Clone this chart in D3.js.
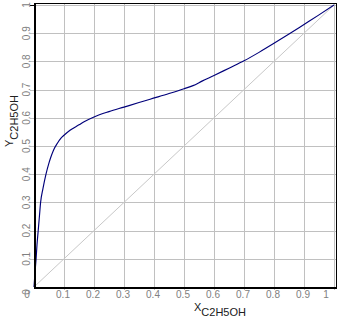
<!DOCTYPE html>
<html>
<head>
<meta charset="utf-8">
<script src="https://cdn.jsdelivr.net/npm/d3@7/dist/d3.min.js"></script>
<style>
  body { margin: 0; background: #fff; }
  svg { display: block; }
  .tick-label { font-family: "Liberation Sans", Arial, sans-serif; font-size: 10px; fill: #808080; }
  .title { font-family: "Liberation Sans", Arial, sans-serif; font-size: 11px; fill: #202020; }
</style>
</head>
<body>
<div id="chart"></div>
<script>
// liquid mole fraction of ethanol
var xValues = [0, 0.004, 0.007, 0.01, 0.014, 0.018, 0.022, 0.03, 0.04, 0.05, 0.056, 0.065, 0.078, 0.09, 0.1,
               0.12, 0.15, 0.167, 0.2, 0.25, 0.3, 0.35, 0.387, 0.45, 0.5, 0.53, 0.56, 0.6, 0.65, 0.7,
               0.75, 0.8, 0.85, 0.9, 0.95, 1.0];
// vapour mole fraction of ethanol
var yValues = [0, 0.06, 0.10, 0.15, 0.20, 0.25, 0.30, 0.35, 0.40, 0.44, 0.46, 0.485, 0.51, 0.528, 0.538,
               0.556, 0.575, 0.586, 0.603, 0.622, 0.638, 0.654, 0.666, 0.686, 0.703, 0.714, 0.73, 0.75, 0.776, 0.802,
               0.832, 0.864, 0.897, 0.931, 0.965, 1.0];
// 45 degree reference line
var diagValues = [0, 1];
var tickValues = [0.1, 0.2, 0.3, 0.4, 0.5, 0.6, 0.7, 0.8, 0.9, 1];

var W = 341, H = 320;
var x = d3.scaleLinear().domain([0, 1]).range([34, 334]);
var y = d3.scaleLinear().domain([0, 1]).range([287, 5]);

var svg = d3.select('#chart').append('svg')
    .attr('width', W).attr('height', H);

// grid
var grid = svg.append('g').attr('shape-rendering', 'crispEdges');
grid.selectAll('line.vx').data(tickValues).enter().append('line')
    .attr('x1', d => Math.round(x(d)) + 0.5).attr('x2', d => Math.round(x(d)) + 0.5)
    .attr('y1', 3).attr('y2', 290)
    .attr('stroke', '#c0c0c0');
grid.selectAll('line.hy').data(tickValues).enter().append('line')
    .attr('y1', d => Math.round(y(d)) + 0.5).attr('y2', d => Math.round(y(d)) + 0.5)
    .attr('x1', 30).attr('x2', 336)
    .attr('stroke', '#c0c0c0');

// diagonal
svg.append('path')
    .datum(diagValues)
    .attr('d', d3.line().x(d => x(d)).y(d => y(d)))
    .attr('fill', 'none')
    .attr('stroke', '#c8c8c8')
    .attr('stroke-width', 1);

// equilibrium curve
svg.append('path')
    .datum(xValues.map((v, i) => [v, yValues[i]]))
    .attr('d', d3.line().x(d => x(d[0])).y(d => y(d[1])).curve(d3.curveMonotoneX))
    .attr('fill', 'none')
    .attr('stroke', '#00007a')
    .attr('stroke-width', 1.15);

// frame
var frame = svg.append('g').attr('shape-rendering', 'crispEdges');
frame.append('rect')
    .attr('x', 34.5).attr('y', 3.5).attr('width', 302).attr('height', 284)
    .attr('fill', 'none').attr('stroke', '#000').attr('stroke-width', 1);
frame.append('line').attr('x1', 34.5).attr('x2', 34.5).attr('y1', 3).attr('y2', 288)
    .attr('stroke', '#000').attr('stroke-width', 2);
frame.append('line').attr('x1', 34).attr('x2', 337).attr('y1', 287.5).attr('y2', 287.5)
    .attr('stroke', '#000').attr('stroke-width', 2);
frame.append('line').attr('x1', 30).attr('x2', 34).attr('y1', 5.5).attr('y2', 5.5)
    .attr('stroke', '#000');

// x tick labels
svg.selectAll('text.xt').data([0].concat(tickValues)).enter().append('text')
    .attr('class', 'tick-label')
    .attr('x', d => d === 0 ? 27 : (d === 1 ? x(d) - 8 : x(d) - 1))
    .attr('y', 298)
    .attr('text-anchor', 'middle')
    .text(d => d3.format('')(d));

// y tick labels (rotated)
svg.selectAll('text.yt').data([0].concat(tickValues)).enter().append('text')
    .attr('class', 'tick-label')
    .attr('transform', d => 'translate(30,' + (d === 0 ? 292 : y(d)) + ') rotate(-90)')
    .attr('text-anchor', 'middle')
    .text(d => d3.format('')(d));

// axis titles
var xt = svg.append('text').attr('class', 'title').attr('x', 194).attr('y', 311);
xt.append('tspan').text('X');
xt.append('tspan').attr('dy', 5).text('C2H5OH');

var yt = svg.append('text').attr('class', 'title')
    .attr('transform', 'translate(13,147) rotate(-90)');
yt.append('tspan').text('Y');
yt.append('tspan').attr('dy', 5).text('C2H5OH');
</script>
</body>
</html>
